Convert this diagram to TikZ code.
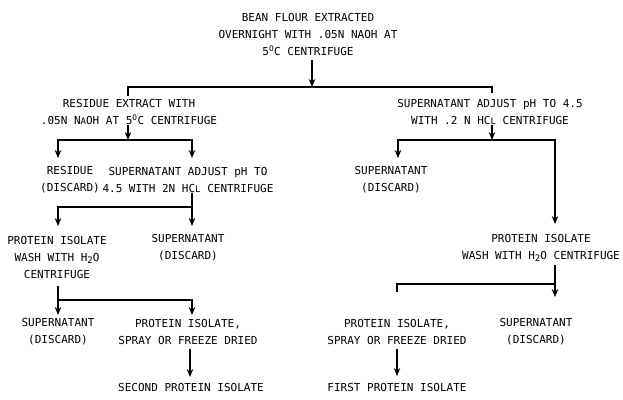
\documentclass[tikz,border=0pt]{standalone}
\usepackage{fontspec}
\setmonofont{DejaVu Sans Mono}
\usetikzlibrary{arrows.meta}
\begin{document}
\begin{tikzpicture}[x=1pt,y=-1pt,
  lbl/.style={align=center,inner sep=0pt,font=\ttfamily\fontsize{11}{17}\selectfont},
  ln/.style={line width=1.2pt},
  arr/.style={ln,-{Stealth[length=8pt,width=6.5pt]}}]
\useasboundingbox (0,0) rectangle (623,399);
% text nodes
\node[lbl] (top) at (308,34) {BEAN FLOUR EXTRACTED\\OVERNIGHT WITH .05N NAOH AT\\5\textsuperscript{O}C CENTRIFUGE};
\node[lbl] (L1) at (129,112) {RESIDUE EXTRACT WITH\\.05N N{\small A}OH AT 5\textsuperscript{O}C CENTRIFUGE};
\node[lbl] (R1) at (490,112) {SUPERNATANT ADJUST pH TO 4.5\\WITH .2 N HC{\small L} CENTRIFUGE};
\node[lbl] (res) at (70,180) {RESIDUE\\(DISCARD)};
\node[lbl] (sadj) at (188,180) {SUPERNATANT ADJUST pH TO\\4.5 WITH 2N HC{\small L} CENTRIFUGE};
\node[lbl] (srd) at (391,180) {SUPERNATANT\\(DISCARD)};
\node[lbl] (piw) at (57,257) {PROTEIN ISOLATE\\WASH WITH H\raisebox{-2pt}{\small 2}O\\CENTRIFUGE};
\node[lbl] (sd1) at (188,248) {SUPERNATANT\\(DISCARD)};
\node[lbl] (piwr) at (541,248) {PROTEIN ISOLATE\\WASH WITH H\raisebox{-2pt}{\small 2}O CENTRIFUGE};
\node[lbl] (sd2) at (58,332) {SUPERNATANT\\(DISCARD)};
\node[lbl] (pis) at (188,332) {PROTEIN ISOLATE,\\SPRAY OR FREEZE DRIED};
\node[lbl] (sd3) at (536,332) {SUPERNATANT\\(DISCARD)};
\node[lbl] (pisr) at (397,332) {PROTEIN ISOLATE,\\SPRAY OR FREEZE DRIED};
\node[lbl] (sec) at (191,387) {SECOND PROTEIN ISOLATE};
\node[lbl] (fir) at (397,387) {FIRST PROTEIN ISOLATE};
% junctions and ends
\coordinate (j1) at (312,87);
\coordinate (hL) at (128,87);
\coordinate (hR) at (492,87);
\coordinate (c1) at (128,96);
\coordinate (c2) at (492,93);
\coordinate (j2) at (128,140);
\coordinate (t1) at (58,158);
\coordinate (t2) at (192,158);
\coordinate (j3) at (192,207);
\coordinate (t3) at (58,226);
\coordinate (t4) at (192,226);
\coordinate (s4) at (58,286);
\coordinate (j4) at (58,300);
\coordinate (t5) at (58,315);
\coordinate (t6) at (192,315);
\coordinate (t7) at (190,377);
\coordinate (j5) at (492,140);
\coordinate (t8) at (398,158);
\coordinate (t9) at (555,224);
\coordinate (j6) at (555,284);
\coordinate (c5) at (397,292);
\coordinate (t10) at (555,297);
\coordinate (t11) at (397,376);
% connectors
\draw[arr,shorten <=5pt] (top.south -| j1) -- (j1);
\draw[ln] (c1) -- (hL) -- (hR) -- (c2);
\draw[arr] (L1.south -| j2) -- (j2);
\draw[arr] (j2) -| (t1);
\draw[arr] (j2) -| (t2);
\draw[ln] (sadj.south -| j3) -- (j3);
\draw[arr] (j3) -| (t3);
\draw[arr] (j3) -- (t4);
\draw[ln] (s4) -- (j4);
\draw[arr] (j4) -- (t5);
\draw[arr] (j4) -| (t6);
\draw[arr,shorten <=4pt] (pis.south -| t7) -- (t7);
\draw[arr] (R1.south -| j5) -- (j5);
\draw[arr] (j5) -| (t8);
\draw[arr] (j5) -| (t9);
\draw[ln,shorten <=3pt] (piwr.south -| j6) -- (j6);
\draw[ln] (j6) -| (c5);
\draw[arr] (j6) -- (t10);
\draw[arr,shorten <=4pt] (pisr.south -| t11) -- (t11);
\end{tikzpicture}
\end{document}
